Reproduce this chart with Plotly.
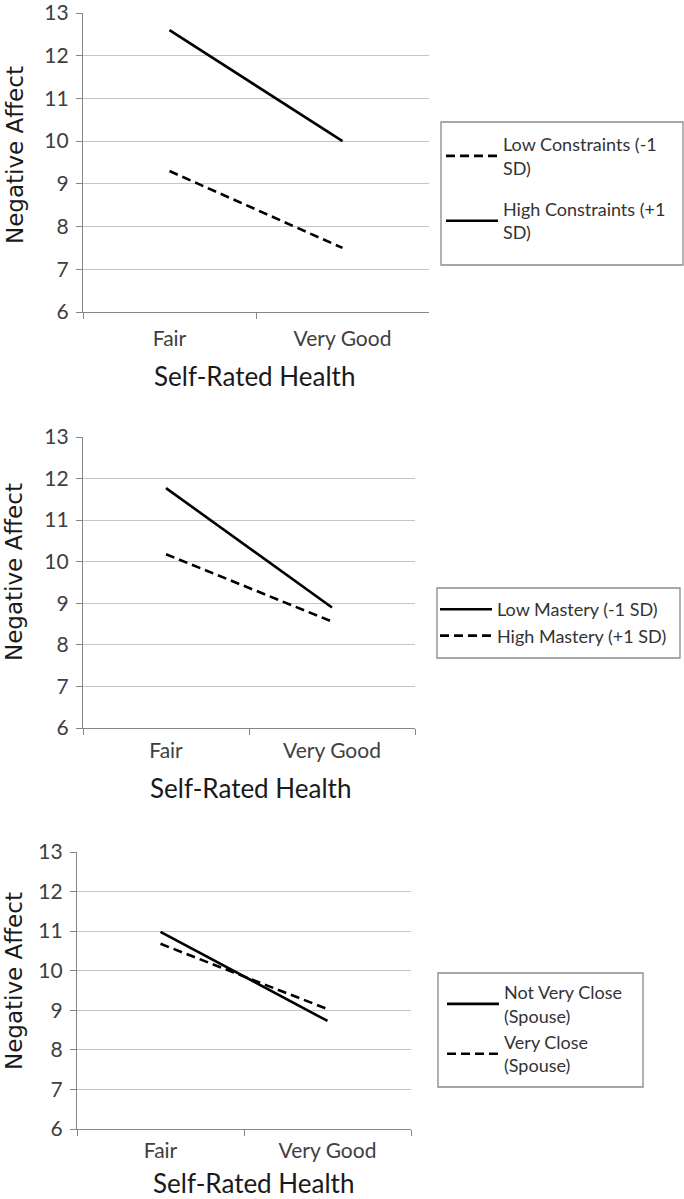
import plotly.graph_objects as go

W, H = 684, 1199

categories = ["Fair", "Very Good"]

# Panel 1: Constraints
p1_names = ["Low Constraints (-1<br>SD)", "High Constraints (+1<br>SD)"]
p1_low = [9.3, 7.5]
p1_high = [12.6, 10.0]

# Panel 2: Mastery
p2_names = ["Low Mastery (-1 SD)", "High Mastery (+1 SD)"]
p2_low = [11.77, 8.9]
p2_high = [10.18, 8.56]

# Panel 3: Closeness to spouse
p3_names = ["Not Very Close<br>(Spouse)", "Very Close<br>(Spouse)"]
p3_not = [10.98, 8.73]
p3_very = [10.68, 9.03]

y_ticks = [6, 7, 8, 9, 10, 11, 12, 13]

x_title = "Self-Rated Health"
y_title = "Negative Affect"

SANS = "Lato, Open Sans, sans-serif"
TICKFONT = dict(family=SANS, size=21, color="#404040")
XTITLEFONT = dict(family=SANS, size=26, color="#1a1a1a")
YTITLEFONT = dict(family="DejaVu Sans, Verdana, sans-serif", size=23, color="#1a1a1a")
LEGFONT = dict(family=SANS, size=18, color="#333333")
GRID = "#c4c4c4"
AXIS = "#868686"
DASH = "9px,5px"


def fx(v):
    return v / W


def fy(v):
    return 1 - v / H


panels = [
    dict(x0=83, x1=429, y0=13, y1=312, stand=8,
         traces=[(p1_names[0], p1_low, DASH), (p1_names[1], p1_high, "solid")],
         box=(441, 122, 683, 265), leg=(441, 126), gap=15, order="grouped",
         ytitle=(15, 155), xtitle=(254, 376)),
    dict(x0=83, x1=415, y0=437, y1=728, stand=4,
         traces=[(p2_names[0], p2_low, "solid"), (p2_names[1], p2_high, DASH)],
         box=(437, 588, 680, 658), leg=(435, 591), gap=0, order="normal",
         ytitle=(14, 572), xtitle=(250, 788)),
    dict(x0=77, x1=411, y0=852, y1=1129, stand=3,
         traces=[(p3_names[0], p3_not, "solid"), (p3_names[1], p3_very, DASH)],
         box=(438, 973, 643, 1087), leg=(442, 974), gap=0, order="normal",
         ytitle=(14, 981), xtitle=(253, 1183)),
]

fig = go.Figure()
layout = dict(
    width=W, height=H,
    margin=dict(l=0, r=0, t=0, b=0),
    paper_bgcolor="white", plot_bgcolor="white",
    showlegend=True,
)
shapes = []
annotations = []

for i, p in enumerate(panels, start=1):
    sfx = "" if i == 1 else str(i)
    legname = "legend" if i == 1 else f"legend{i}"
    for j, (name, vals, dash) in enumerate(p["traces"]):
        fig.add_trace(go.Scatter(
            x=categories, y=vals, mode="lines", name=name,
            line=dict(color="black", width=2.6, dash=dash),
            xaxis="x" + sfx, yaxis="y" + sfx, legend=legname,
            legendgroup=f"g{i}{j}", hoverinfo="x+y+name",
        ))
    layout["xaxis" + sfx] = dict(
        domain=[fx(p["x0"]), fx(p["x1"])], anchor="y" + sfx, type="category",
        range=[-0.5, 1.5], showgrid=False, showline=True, linecolor=AXIS, linewidth=1.3,
        ticks="outside", tickson="boundaries", ticklen=6, tickcolor=AXIS, tickwidth=1.3,
        tickfont=TICKFONT, zeroline=False, automargin=False,
        ticklabelstandoff=p["stand"], ticklabeloverflow="allow",
    )
    layout["yaxis" + sfx] = dict(
        domain=[fy(p["y1"]), fy(p["y0"])], anchor="x" + sfx, range=[6, 13], tickvals=y_ticks,
        showgrid=True, gridcolor=GRID, gridwidth=1.2, showline=True, linecolor=AXIS, linewidth=1.3,
        ticks="outside", ticklen=6, tickcolor=AXIS, tickwidth=1.3, tickfont=TICKFONT,
        zeroline=False, automargin=False, ticklabelstandoff=3, ticklabeloverflow="allow",
    )
    lx, ly = p["leg"]
    layout[legname] = dict(
        x=fx(lx), y=fy(ly), xanchor="left", yanchor="top",
        xref="paper", yref="paper",
        borderwidth=0, bgcolor="rgba(0,0,0,0)",
        font=LEGFONT, tracegroupgap=p["gap"], itemwidth=52,
        traceorder=p["order"],
    )
    bx0, by0, bx1, by1 = p["box"]
    shapes.append(dict(type="rect", xref="paper", yref="paper",
                       x0=fx(bx0), x1=fx(bx1), y0=fy(by1), y1=fy(by0),
                       line=dict(color="#8a8a8a", width=1.3), fillcolor="rgba(0,0,0,0)",
                       layer="below"))
    tx, ty = p["ytitle"]
    annotations.append(dict(text=y_title, x=fx(tx), y=fy(ty), xref="paper", yref="paper",
                            xanchor="center", yanchor="middle", textangle=-90,
                            showarrow=False, font=YTITLEFONT))
    tx, ty = p["xtitle"]
    annotations.append(dict(text=x_title, x=fx(tx), y=fy(ty), xref="paper", yref="paper",
                            xanchor="center", yanchor="middle",
                            showarrow=False, font=XTITLEFONT))

layout["shapes"] = shapes
layout["annotations"] = annotations
fig.update_layout(**layout)
fig.write_html("out.html", config={"displayModeBar": False},
               post_script="document.body.style.margin='0';document.body.style.overflow='hidden';")
